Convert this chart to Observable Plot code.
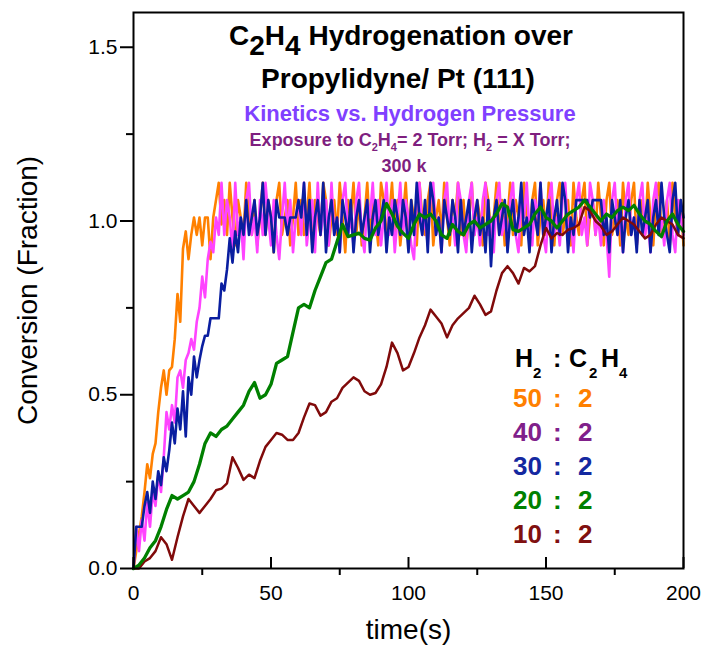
<!DOCTYPE html>
<html>
<head>
<meta charset="utf-8">
<script src="https://cdn.jsdelivr.net/npm/d3@7"></script>
<script src="https://cdn.jsdelivr.net/npm/@observablehq/plot@0.6"></script>
<style>
  html, body { margin: 0; padding: 0; background: #fff; }
  #chart { width: 706px; height: 646px; }
</style>
</head>
<body>
<div id="chart"></div>
<script>
// ---- Data ----
// fast series sampled every 1 s (t = 0..200)
const h2_50 = [
  0.00,0.05,0.10,0.15,0.22,0.30,0.26,0.33,0.36,0.45,
  0.52,0.57,0.50,0.57,0.58,0.66,0.79,0.71,0.92,0.97,
  0.89,0.96,1.01,0.96,1.01,0.93,1.01,1.01,0.89,1.01,
  1.06,1.11,0.99,
  1.06,0.96,1.11,1.01,0.93,1.06,1.01,0.96,1.11,1.01,
  0.96,1.06,0.93,1.01,1.11,0.96,1.06,1.01,0.91,1.06,
  1.11,0.96,1.01,1.06,0.93,1.01,1.11,0.96,1.06,0.96,
  1.01,1.11,0.93,1.06,1.01,0.96,1.11,1.06,0.93,1.01,
  1.06,0.96,1.11,1.01,0.91,1.06,1.01,1.11,0.96,1.06,
  0.93,1.01,1.11,0.96,1.06,1.01,0.93,1.11,1.06,0.96,
  1.01,1.11,0.96,1.06,0.93,1.01,1.11,0.96,1.06,1.01,
  0.93,1.11,1.01,0.96,1.06,1.11,0.93,1.01,1.06,0.96,
  1.11,1.01,0.93,1.06,1.01,1.11,0.96,1.06,0.93,1.01,
  1.11,0.96,1.06,1.01,0.93,1.11,1.06,0.96,1.01,1.11,
  0.96,1.06,0.93,1.01,1.11,0.96,1.06,1.01,0.93,1.11,
  1.01,0.96,1.06,1.11,0.93,1.01,1.06,0.96,1.11,1.01,
  0.93,1.06,1.11,0.96,1.01,1.06,0.93,1.11,1.01,0.96,
  1.06,1.11,0.93,1.01,1.06,0.96,1.11,1.01,0.93,1.06,
  1.11,0.96,1.01,1.06,0.93,1.11,1.01,0.96,1.06,1.11,
  0.93,1.01,1.06,0.96,1.11,1.01,0.93,1.06,1.11,0.96,
  1.01,1.06,0.93,1.11,1.01,0.96,1.06,0.93
];
const h2_40 = [
  0.00,0.12,0.05,0.14,0.08,0.19,0.12,0.22,0.18,0.27,
  0.22,0.32,0.45,0.40,0.47,0.42,0.55,0.57,0.52,0.60,
  0.62,0.66,0.63,0.71,0.75,0.84,0.78,0.89,0.94,0.91,
  1.01,0.96,1.11,
  0.96,1.06,1.01,0.91,1.11,0.96,1.01,0.89,1.06,1.11,
  0.96,1.01,0.91,1.06,0.96,1.11,1.01,0.93,1.06,0.96,
  0.89,1.01,1.11,0.96,1.06,0.91,1.01,1.06,0.96,1.11,
  0.93,1.01,1.06,0.91,1.11,0.96,1.01,1.06,0.93,1.11,
  0.96,1.01,0.91,1.06,1.11,0.96,1.01,0.93,1.06,1.11,
  0.96,0.91,1.06,1.01,1.11,0.96,1.06,0.93,1.01,1.11,
  0.96,1.06,0.91,1.01,1.11,0.96,1.06,1.01,0.93,0.89,
  1.06,1.11,0.96,1.01,0.93,1.06,1.11,0.96,1.01,0.91,
  1.06,1.11,0.96,1.01,0.93,1.11,1.06,0.96,0.91,1.06,
  1.11,0.96,1.01,0.93,1.06,1.11,0.96,1.01,0.91,1.06,
  1.11,0.96,1.01,0.93,1.06,1.11,0.96,0.91,1.06,1.01,
  1.11,0.96,0.93,1.06,1.01,1.11,0.96,0.91,1.06,1.11,
  0.96,1.01,0.93,1.06,1.11,0.96,1.01,0.91,1.06,1.11,
  0.96,1.01,0.93,1.11,1.06,0.96,1.01,0.93,1.06,0.96,
  0.84,1.06,1.11,0.96,1.01,0.91,1.06,1.11,0.96,1.01,
  0.93,1.06,1.11,0.96,1.01,0.91,1.06,1.11,0.96,1.01,
  0.93,1.06,1.11,0.96,0.91,1.06,1.01,0.96
];
const h2_30 = [
  0.00,0.12,0.12,0.12,0.18,0.22,0.16,0.25,0.20,0.28,
  0.24,0.32,0.28,0.34,0.42,0.36,0.46,0.40,0.51,0.38,
  0.55,0.50,0.61,0.55,0.60,0.64,0.67,0.67,0.72,0.72,
  0.72,0.72,0.82,0.80,0.86,0.95,0.88,0.97,0.91,1.01,
  0.96,1.06,0.96,1.01,1.06,0.96,1.01,1.11,
  0.96,1.06,1.01,0.91,1.06,1.01,1.01,1.01,0.96,1.01,
  1.01,1.01,1.06,1.01,1.11,0.96,1.06,0.91,1.01,1.06,
  0.96,1.11,0.91,1.01,1.06,0.96,1.01,0.91,1.06,1.01,
  0.96,1.06,0.91,1.01,1.06,0.96,1.01,1.06,0.91,1.01,
  1.06,0.96,1.01,1.06,0.91,1.01,0.96,1.06,1.01,0.96,
  1.06,1.01,0.91,1.06,0.96,1.11,1.01,0.96,1.06,0.91,
  1.11,1.06,0.96,1.01,0.91,1.06,1.01,0.96,1.06,1.01,
  0.91,1.06,0.96,1.01,1.06,0.91,1.01,1.06,0.96,1.01,
  0.91,1.06,0.87,1.01,1.06,0.96,1.01,1.06,0.91,1.01,
  1.06,0.96,1.01,1.11,0.96,1.01,0.91,1.06,1.01,0.96,
  1.11,0.96,1.01,1.06,0.91,1.01,1.06,0.96,1.11,1.06,
  0.91,1.01,0.96,1.06,1.06,1.06,1.06,1.06,1.01,1.06,
  1.06,1.06,1.06,0.96,1.01,0.91,1.06,1.01,0.96,1.06,
  0.91,1.01,1.06,0.96,1.01,0.91,1.06,0.96,1.01,1.06,
  0.91,1.01,1.06,0.96,1.11,1.01,0.96,0.91,1.06,1.11,
  0.96,1.06,1.01
];
// slow series sampled every 2 s (t = 0..200)
const h2_20 = [
  0.00,0.01,0.03,0.06,0.08,0.12,0.17,0.21,0.20,0.21,
  0.22,0.25,0.30,0.36,0.39,0.38,0.40,0.41,0.43,0.45,
  0.47,0.51,0.535,0.49,0.50,0.53,0.59,0.60,0.61,0.68,
  0.75,0.76,0.75,0.80,0.84,0.88,0.89,0.94,0.99,0.955,
  0.96,0.965,0.95,0.945,0.98,1.00,1.05,1.02,0.985,0.965,
  0.95,0.99,1.02,1.01,1.02,1.00,0.96,0.95,0.99,0.97,
  0.96,0.99,1.00,0.98,0.99,1.00,1.02,1.05,1.04,0.975,
  0.97,0.98,0.99,1.02,1.04,1.01,1.00,0.98,1.00,1.02,
  1.03,1.04,1.06,1.04,1.02,1.00,1.02,1.01,1.03,1.04,
  1.03,1.045,1.02,1.00,0.99,0.97,0.955,1.00,1.02,0.99,
  0.97
];
const h2_10 = [
  0.00,0.00,0.02,0.03,0.05,0.09,0.07,0.025,0.09,0.15,
  0.20,0.18,0.16,0.18,0.20,0.225,0.23,0.245,0.32,0.29,
  0.255,0.27,0.26,0.31,0.35,0.37,0.39,0.385,0.37,0.37,
  0.39,0.435,0.475,0.47,0.44,0.45,0.48,0.49,0.52,0.535,
  0.55,0.54,0.51,0.50,0.505,0.53,0.58,0.65,0.62,0.57,
  0.58,0.62,0.665,0.70,0.745,0.725,0.705,0.665,0.70,0.72,
  0.735,0.75,0.785,0.76,0.73,0.74,0.80,0.85,0.87,0.85,
  0.82,0.865,0.855,0.87,0.93,0.98,0.95,0.965,0.96,0.975,
  0.98,0.99,1.04,1.03,1.00,0.985,0.96,0.97,0.99,1.01,
  1.00,0.99,0.97,0.95,0.96,0.99,1.01,1.00,0.99,0.96,
  0.95
];
const seriesNames = ["50 : 2", "40 : 2", "30 : 2", "20 : 2", "10 : 2"];
const lineColors = ["#ff8000", "#ff44ff", "#0a1ea0", "#008000", "#800a0a"];
const legendNumbers = ["50", "40", "30", "20", "10"];
const legendColors = ["#ff8000", "#80208a", "#1428a0", "#008000", "#801010"];
const xMajorTicks = [0, 50, 100, 150, 200];
const xMinorTicks = [25, 75, 125, 175];
const yMajorTicks = [0, 0.5, 1.0, 1.5];
const yMinorTicks = [0.25, 0.75, 1.25];

// build tidy tables
function toRows(values, step) {
  return values.map((v, i) => ({t: i * step, v}));
}
const rows50 = toRows(h2_50, 1);
const rows40 = toRows(h2_40, 1);
const rows30 = toRows(h2_30, 1);
const rows20 = toRows(h2_20, 2);
const rows10 = toRows(h2_10, 2);

const FONT = "'Liberation Sans', Arial, Helvetica, sans-serif";

const plot = Plot.plot({
  width: 706,
  height: 646,
  marginLeft: 133,
  marginRight: 23,
  marginTop: 12,
  marginBottom: 78,
  style: {fontFamily: FONT, background: "white", color: "black", overflow: "visible"},
  x: {domain: [0, 200]},
  y: {domain: [0, 1.6]},
  marks: [
    Plot.line(rows50, {x: "t", y: "v", stroke: lineColors[0], strokeWidth: 2.6}),
    Plot.line(rows40, {x: "t", y: "v", stroke: lineColors[1], strokeWidth: 2.6}),
    Plot.line(rows30, {x: "t", y: "v", stroke: lineColors[2], strokeWidth: 2.6}),
    Plot.line(rows10, {x: "t", y: "v", stroke: lineColors[4], strokeWidth: 2.5}),
    Plot.line(rows20, {x: "t", y: "v", stroke: lineColors[3], strokeWidth: 3.3}),
    Plot.frame({stroke: "black", strokeWidth: 2}),
    Plot.axisY(yMajorTicks, {tickSize: 13, tickPadding: 3, tickFormat: d3.format(".1f"), fontSize: 21, label: null, strokeWidth: 2}),
    Plot.axisY(yMinorTicks, {tickSize: 7, tickFormat: () => "", label: null, strokeWidth: 2}),
    Plot.axisX(xMajorTicks, {tickSize: 0, tickPadding: 17, fontSize: 21, label: null}),
    Plot.tickX(xMajorTicks, {x: d => d, insetTop: 545, stroke: "black", strokeWidth: 2}),
    Plot.axisX(xMinorTicks, {tickSize: 7, tickFormat: () => "", label: null, strokeWidth: 2}),
    Plot.text(["time(s)"], {frameAnchor: "bottom", dy: 62, fontSize: 28, lineAnchor: "middle", textAnchor: "middle"}),
    Plot.text(["Conversion (Fraction)"], {frameAnchor: "left", dx: -105, rotate: -90, fontSize: 28, lineAnchor: "middle", textAnchor: "middle"})
  ]
});

document.getElementById("chart").appendChild(plot);

// ---- annotations with subscripts ----
const svg = d3.select(plot);
const g = svg.append("g").attr("font-family", FONT).attr("font-weight", "bold");

function richText(x, y, size, color, parts, anchor = "middle") {
  const t = g.append("text").attr("x", x).attr("y", y)
    .attr("font-size", size).attr("fill", color).attr("text-anchor", anchor);
  let shift = 0;
  for (const p of parts) {
    const s = t.append("tspan").text(p.text);
    const target = p.sub ? p.sub : 0;
    s.attr("dy", target - shift);
    shift = target;
    if (p.size) s.attr("font-size", p.size);
  }
  return t;
}

richText(401, 45, 28, "black", [
  {text: "C"}, {text: "2", sub: 10}, {text: "H"}, {text: "4", sub: 10}, {text: " Hydrogenation over"}
]);
richText(398, 88, 28, "black", [{text: "Propylidyne/ Pt (111)"}]);
richText(410, 121, 22, "#8040ff", [{text: "Kinetics vs. Hydrogen Pressure"}]);
richText(410, 146, 18, "#7f1f7f", [
  {text: "Exposure to C"}, {text: "2", sub: 5, size: 11}, {text: "H"}, {text: "4", sub: 5, size: 11},
  {text: "= 2 Torr; H"}, {text: "2", sub: 5, size: 11}, {text: " = X Torr;"}
]);
richText(404, 172, 18, "#7f1f7f", [{text: "300 k"}]);

// legend header
const lg = g.append("g").attr("text-anchor", "start");
const hdr = [
  {text: "H", x: 515, dy: 0, size: 25},
  {text: "2", x: 533, dy: 11, size: 15},
  {text: ":", x: 553, dy: 0, size: 25},
  {text: "C", x: 569, dy: 0, size: 25},
  {text: "2", x: 589, dy: 11, size: 15},
  {text: "H", x: 601, dy: 0, size: 25},
  {text: "4", x: 619, dy: 11, size: 15}
];
for (const h of hdr) {
  lg.append("text").attr("x", h.x).attr("y", 367 + h.dy).attr("font-size", h.size)
    .attr("fill", "black").text(h.text);
}
legendNumbers.forEach((n, i) => {
  const y = 407 + i * 34;
  lg.append("text").attr("x", 513).attr("y", y).attr("font-size", 26).attr("fill", legendColors[i]).text(n);
  lg.append("text").attr("x", 553).attr("y", y).attr("font-size", 26).attr("fill", legendColors[i]).text(":");
  lg.append("text").attr("x", 578).attr("y", y).attr("font-size", 26).attr("fill", legendColors[i]).text("2");
});
</script>
</body>
</html>
